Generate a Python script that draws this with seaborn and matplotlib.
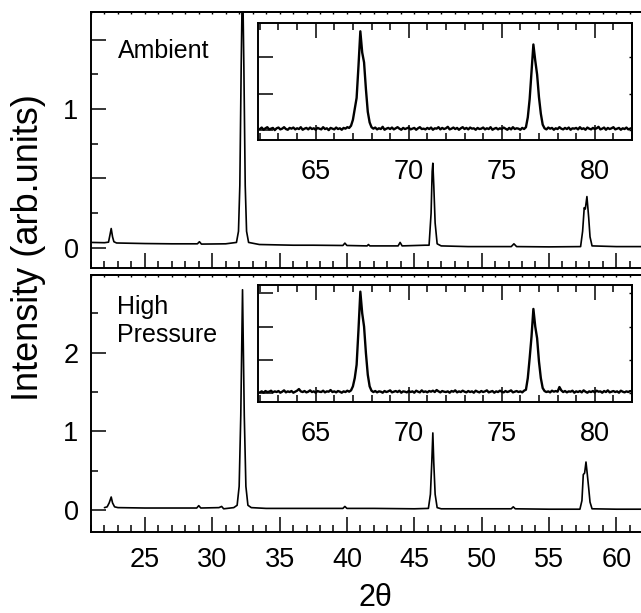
import numpy as np
import pandas as pd
import matplotlib
matplotlib.use("Agg")
import matplotlib.pyplot as plt
from matplotlib.ticker import MultipleLocator, FuncFormatter, NullFormatter
import seaborn as sns

sns.set_theme(style="ticks")
plt.rcParams["font.family"] = ["Liberation Sans", "DejaVu Sans"]
plt.rcParams.update({"text.color": "black", "axes.labelcolor": "black",
                     "xtick.color": "black", "ytick.color": "black",
                     "axes.edgecolor": "black"})

# ---- main scans (2theta, intensity) ----
amb_x = [21.0, 22.0, 22.3, 22.4, 22.5, 22.6, 22.7, 22.9, 25.0, 27.0, 28.9, 29.05, 29.2,
         31.0, 31.8, 31.95, 32.05, 32.15, 32.25, 32.35, 32.45, 32.55, 32.7, 33.5, 36.0,
         37.5, 39.7, 39.85, 40.0, 41.5, 41.6, 41.7, 43.8, 43.95, 44.1, 45.8, 46.1, 46.25,
         46.33, 46.38, 46.45, 46.55, 46.7, 47.0, 49.0, 52.2, 52.4, 52.6, 55.0, 57.35,
         57.5, 57.62, 57.7, 57.82, 57.95, 58.05, 58.2, 60.0, 63.0]
amb_y = [0.040, 0.038, 0.042, 0.09, 0.14, 0.08, 0.045, 0.036, 0.032, 0.030, 0.030, 0.045, 0.028,
         0.030, 0.04, 0.12, 0.45, 1.30, 2.00, 1.30, 0.45, 0.12, 0.04, 0.025, 0.02,
         0.02, 0.018, 0.035, 0.018, 0.015, 0.025, 0.015, 0.015, 0.04, 0.015, 0.02, 0.02, 0.25,
         0.55, 0.61, 0.45, 0.18, 0.03, 0.015, 0.01, 0.01, 0.03, 0.01, 0.008, 0.01,
         0.12, 0.29, 0.28, 0.37, 0.22, 0.08, 0.015, 0.01, 0.01]

hp_x = [22.0, 22.2, 22.35, 22.5, 22.6, 22.75, 23.0, 25.0, 27.0, 28.85, 29.0, 29.15,
        30.5, 30.7, 30.85, 31.1, 31.6, 31.85, 32.0, 32.12, 32.25, 32.38, 32.5, 32.65,
        32.9, 34.0, 36.0, 39.7, 39.85, 40.0, 42.0, 45.0, 46.05, 46.2, 46.3, 46.38,
        46.45, 46.55, 46.7, 47.0, 50.0, 52.2, 52.35, 52.5, 55.0, 57.3, 57.45, 57.55,
        57.65, 57.75, 57.85, 57.95, 58.05, 58.2, 60.0, 63.0]
hp_y = [0.030, 0.040, 0.09, 0.165, 0.09, 0.040, 0.030, 0.025, 0.025, 0.025, 0.055, 0.025,
        0.030, 0.045, 0.015, 0.020, 0.030, 0.06, 0.30, 1.20, 2.80, 1.20, 0.30, 0.06,
        0.030, 0.020, 0.020, 0.020, 0.045, 0.020, 0.020, 0.015, 0.020, 0.20, 0.60, 0.98,
        0.60, 0.20, 0.030, 0.015, 0.015, 0.015, 0.040, 0.015, 0.010, 0.010, 0.12, 0.45,
        0.47, 0.61, 0.45, 0.28, 0.10, 0.015, 0.010, 0.010]

# ---- high-angle scans for the insets, 0.1 deg steps from 62 deg (hundredths of a unit) ----
inset_start, inset_step = 62.0, 0.1
amb_hi = [3, 7, 1, 5, 8, 2, 4, 6, 0, 5,
          7, 2, 4, 8, 3, 1, 6, 4, 7, 2,
          5, 3, 8, 1, 4, 6, 2, 7, 3, 5,
          1, 6, 4, 2, 8, 3, 5, 0, 6, 4,
          2, 7, 3, 5, 1, 6, 4, 8, 6, 12,
          28, 58, 88, 175, 270, 212, 185, 112, 50, 21,
          8, 4, 7, 2, 5, 3, 9, 1, 4, 6,
          3, 7, 2, 5, 8, 4, 1, 6, 3, 5,
          7, 2, 4, 6, 1, 5, 8, 3, 4, 2,
          6, 3, 7, 1, 5, 4, 8, 2, 6, 3,
          5, 9, 2, 4, 7, 3, 6, 1, 5, 8,
          3, 6, 2, 7, 4, 5, 1, 6, 3, 4,
          7, 2, 5, 3, 8, 1, 4, 6, 2, 5,
          3, 7, 4, 1, 6, 2, 8, 3, 5, 4,
          1, 6, 3, 8, 35, 85, 160, 234, 190, 152,
          90, 45, 15, 5, 2, 7, 4, 6, 1, 5,
          3, 8, 4, 2, 6, 3, 7, 1, 5, 4,
          6, 2, 8, 3, 5, 1, 7, 4, 2, 6,
          3, 5, 9, 2, 4, 7, 1, 6, 3, 5,
          8, 2, 4, 6, 1, 5, 3, 7, 2, 4,
          6]
hp_hi = [2, 5, 1, 6, 3, 4, 7, 2, 5, 3,
         6, 1, 4, 8, 2, 5, 3, 6, 1, 4,
         7, 12, 5, 3, 6, 2, 4, 8, 3, 5,
         1, 6, 4, 3, 7, 2, 5, 4, 9, 3,
         5, 2, 6, 4, 1, 5, 3, 7, 4, 8,
         20, 45, 85, 190, 305, 240, 200, 120, 55, 20,
         7, 3, 6, 2, 5, 4, 1, 6, 3, 5,
         8, 2, 4, 6, 3, 7, 1, 5, 4, 2,
         6, 3, 5, 1, 7, 4, 2, 8, 3, 5,
         2, 6, 4, 7, 3, 9, 5, 2, 6, 4,
         3, 5, 1, 6, 4, 8, 2, 5, 3, 7,
         4, 2, 6, 3, 5, 1, 7, 4, 2, 6,
         3, 5, 8, 2, 4, 6, 1, 5, 3, 7,
         4, 2, 6, 3, 5, 8, 2, 4, 6, 3,
         5, 2, 7, 10, 45, 105, 170, 253, 200, 165,
         95, 45, 15, 6, 3, 5, 2, 7, 4, 6,
         4, 18, 8, 3, 6, 2, 5, 4, 7, 1,
         5, 3, 6, 2, 8, 4, 1, 5, 3, 6,
         2, 7, 4, 5, 1, 6, 3, 8, 2, 4,
         6, 3, 5, 1, 7, 4, 2, 5, 3, 6,
         4]

panel_labels = ["Ambient", "High\nPressure"]
main_xticks = [25, 30, 35, 40, 45, 50, 55, 60]
inset_xticks = [65, 70, 75, 80]

W, H = 641, 613
fig = plt.figure(figsize=(W / 100, H / 100), dpi=100)


def frac(left, top, right, bottom):
    return [left / W, 1 - bottom / H, (right - left) / W, (bottom - top) / H]


TL = 19.5      # tick label size
LW_SPINE = 1.4


def style_main(ax, ylim, major, minor, show_xlabels):
    ax.set_xlim(21, 62.8)
    ax.set_ylim(*ylim)
    for s in ["left", "bottom", "top"]:
        ax.spines[s].set_linewidth(LW_SPINE)
        ax.spines[s].set_color("black")
    ax.spines["right"].set_visible(False)
    ax.xaxis.set_major_locator(MultipleLocator(5))
    ax.xaxis.set_minor_locator(MultipleLocator(1))
    ax.yaxis.set_major_locator(MultipleLocator(major))
    ax.yaxis.set_minor_locator(MultipleLocator(minor))
    ax.yaxis.set_major_formatter(FuncFormatter(
        lambda v, p: f"{v:.0f}" if abs(v - round(v)) < 1e-6 else ""))
    ax.tick_params(which="both", direction="in", top=False, right=False,
                   width=1.1, color="black", labelsize=TL, labelcolor="black")
    ax.tick_params(which="major", length=10.5)
    ax.tick_params(which="minor", length=5)
    ax.tick_params(axis="y", pad=9)
    ax.tick_params(axis="x", pad=11, labelbottom=show_xlabels)
    if show_xlabels:
        ax.set_xticks(main_xticks)
    # short ticks along the top edge
    top = ax.secondary_xaxis("top")
    top.xaxis.set_major_locator(MultipleLocator(1))
    top.tick_params(which="both", direction="in", length=1.6, width=1.0,
                    labeltop=False)
    top.spines["top"].set_linewidth(LW_SPINE)
    ax.set_xlabel("")
    ax.set_ylabel("")


def style_inset(ax, ylim):
    ax.set_xlim(61.9, 82.0)
    ax.set_ylim(*ylim)
    for s in ax.spines.values():
        s.set_linewidth(LW_SPINE)
        s.set_color("black")
    ax.xaxis.set_major_locator(MultipleLocator(5))
    ax.xaxis.set_minor_locator(MultipleLocator(1))
    ax.yaxis.set_major_locator(MultipleLocator(1))
    ax.yaxis.set_major_formatter(NullFormatter())
    ax.set_xticks(inset_xticks)
    ax.tick_params(which="both", direction="in", top=True, bottom=True,
                   left=True, right=False, width=1.1, color="black",
                   labelsize=TL, labelcolor="black")
    ax.tick_params(which="major", length=10.5)
    ax.tick_params(which="minor", length=5)
    ax.tick_params(axis="x", pad=14)
    ax.tick_params(axis="y", labelleft=False)
    rt = ax.secondary_yaxis("right")
    rt.yaxis.set_major_locator(MultipleLocator(1))
    rt.tick_params(direction="in", length=2.5, width=1.0, labelright=False)
    ax.set_xlabel("")
    ax.set_ylabel("")


ax_top = fig.add_axes(frac(91, 12, 654, 268))
ax_bot = fig.add_axes(frac(91, 275, 654, 532))
in_top = fig.add_axes(frac(258, 22.5, 632, 140))
in_bot = fig.add_axes(frac(258, 285, 632, 402))

amb_df = pd.DataFrame({"two_theta": amb_x, "intensity": amb_y})
hp_df = pd.DataFrame({"two_theta": hp_x, "intensity": hp_y})
sns.lineplot(data=amb_df, x="two_theta", y="intensity", ax=ax_top, color="black",
             lw=1.2, estimator=None, sort=False)
sns.lineplot(data=hp_df, x="two_theta", y="intensity", ax=ax_bot, color="black",
             lw=1.2, estimator=None, sort=False)

hi_x = np.round(inset_start + inset_step * np.arange(len(amb_hi)), 2)
amb_hi_df = pd.DataFrame({"two_theta": hi_x, "intensity": np.array(amb_hi) / 100})
hp_hi_df = pd.DataFrame({"two_theta": hi_x[:len(hp_hi)], "intensity": np.array(hp_hi) / 100})
sns.lineplot(data=amb_hi_df, x="two_theta", y="intensity", ax=in_top, color="black",
             lw=1.7, estimator=None, sort=False)
sns.lineplot(data=hp_hi_df, x="two_theta", y="intensity", ax=in_bot, color="black",
             lw=1.7, estimator=None, sort=False)

style_main(ax_top, (-0.144, 1.698), 0.5, 0.25, False)
style_main(ax_bot, (-0.28, 2.988), 1.0, 0.5, True)
style_inset(in_top, (-0.27, 2.94))
style_inset(in_bot, (-0.27, 3.25))

fig.text(118 / W, 1 - 50.5 / H, panel_labels[0], fontsize=18, ha="left", va="center")
fig.text(117 / W, 1 - 321 / H, panel_labels[1], fontsize=18, ha="left",
         va="center", linespacing=1.2)

fig.text(29 / W, 1 - 248 / H, "Intensity (arb.units)", rotation=90, fontsize=26,
         ha="center", va="center")
fig.text(375 / W, 1 - 598 / H, "2θ", fontsize=22, ha="center", va="center")

fig.savefig("out.png", dpi=100)
